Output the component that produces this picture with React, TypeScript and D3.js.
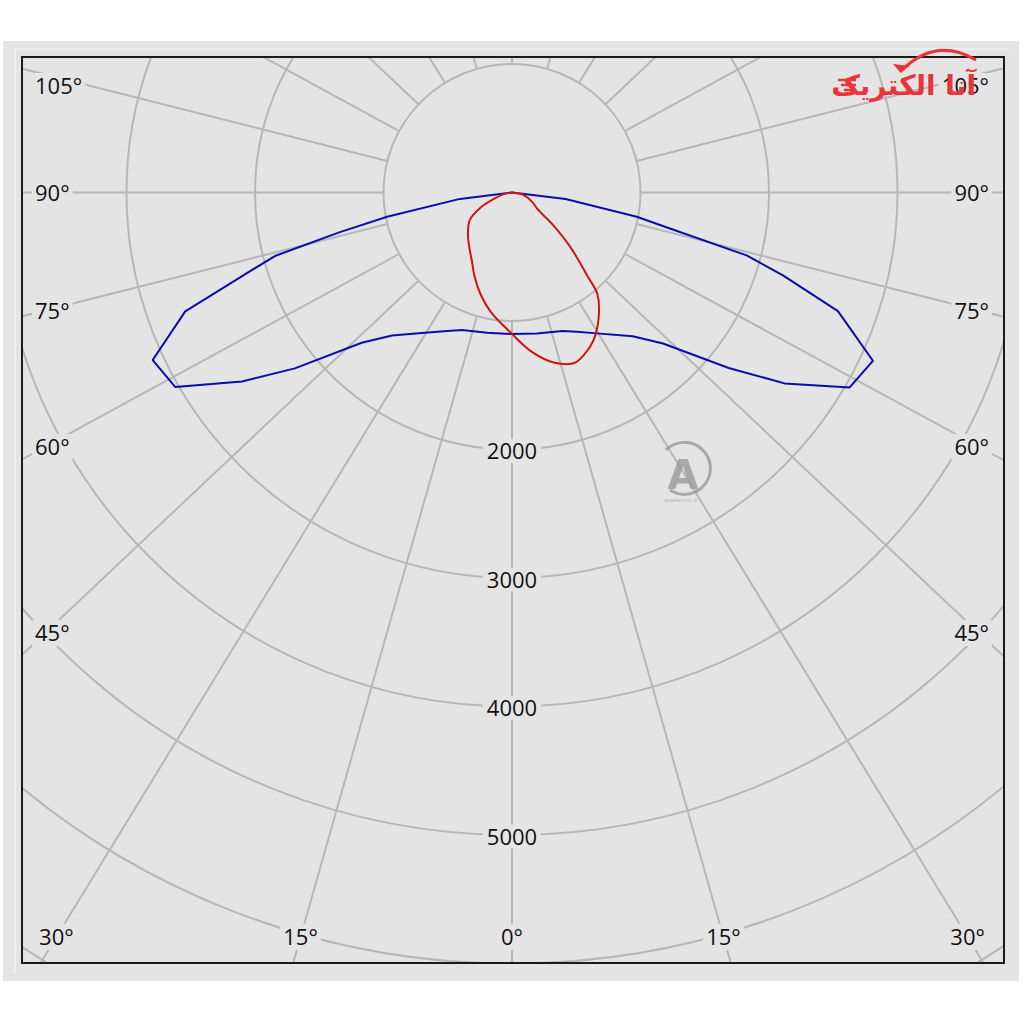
import React from "react";
import * as d3 from "d3";

// ---------- data ----------
// Polar ring values (cd) and labelled rings
const ringValues = [1000, 2000, 3000, 4000, 5000, 6000, 7000, 8000];
const ringLabelValues = [2000, 3000, 4000, 5000];
// Radial grid angles (degrees from nadir), both sides
const rayAngles = [0, 15, 30, 45, 60, 75, 90, 105, 120, 135, 150, 165, 180];
const sideLabelAngles = [45, 60, 75, 90, 105];
const bottomLabelAngles = [0, 15, 30];

// Blue curve: C90 (right) / C270 (left)
const blueAngles = [0, 10, 20, 25, 31, 40, 45, 51, 55, 60, 65, 70, 73, 75, 77, 79, 83, 90];
const blueLeft = [1101, 1109, 1139, 1190, 1270, 1453, 1654, 2175, 2565, 3027, 3085, 2706, 2170, 1910, 1380, 990, 408, 0];
const blueRight = [1101, 1115, 1147, 1195, 1279, 1461, 1662, 2170, 2590, 3034, 3099, 2699, 2205, 1890, 1290, 989, 420, 0];

// Red curve: C180 (left) / C0 (right)
const redLeftAngles = [0, 10, 17, 24, 30, 38, 47, 57, 64, 71, 80, 90];
const redLeft = [1100, 945, 832, 716, 622, 540, 469, 391, 278, 140, 60, 0];
const redRightAngles = [0, 7, 14, 20, 24, 29, 35, 40, 42, 47, 52, 57, 64, 78, 90];
const redRight = [1100, 1248, 1366, 1412, 1381, 1311, 1177, 1035, 884, 618, 391, 235, 180, 90, 0];

// ---------- layout ----------
const CX = 512;
const CY = 192.5;
const PLOT = { left: 22, top: 57, right: 1004, bottom: 963 };
const RAY_STRETCH = 1.06;
const BG = "#e4e4e4";
const GRID = "#b7b7b7";
const FONT = "'Open Sans', 'Noto Sans', sans-serif";
const FS = 22;

const rScale = d3.scaleLinear().domain([0, 1000]).range([0, 128.5]);

function rayDir(theta: number, side: number): [number, number] {
  const t = (theta * Math.PI) / 180;
  const dx = side * RAY_STRETCH * Math.sin(t);
  const dy = Math.cos(t);
  const n = Math.hypot(dx, dy);
  return [dx / n, dy / n];
}

function buildPath(la: number[], lv: number[], ra: number[], rv: number[], curve: any) {
  const pts: [number, number][] = [];
  for (let i = la.length - 1; i >= 0; i--) pts.push([Math.PI + (la[i] * Math.PI) / 180, rScale(lv[i])]);
  for (let i = 1; i < ra.length; i++) pts.push([Math.PI - (ra[i] * Math.PI) / 180, rScale(rv[i])]);
  return d3
    .lineRadial<[number, number]>()
    .angle((d) => d[0])
    .radius((d) => d[1])
    .curve(curve)(pts) as string;
}

function textW(s: string) {
  let w = 0;
  for (const c of s) w += c === "°" ? 0.43 * FS : 0.572 * FS;
  return w;
}

export default function App() {
  const innerR = rScale(1000);
  const rays: { x1: number; y1: number; x2: number; y2: number; key: string }[] = [];
  rayAngles.forEach((a) => {
    const sides = a === 0 || a === 180 ? [1] : [-1, 1];
    sides.forEach((s) => {
      const [ux, uy] = rayDir(a, s);
      rays.push({ x1: CX + ux * innerR, y1: CY + uy * innerR, x2: CX + ux * 1600, y2: CY + uy * 1600, key: `${a}_${s}` });
    });
  });

  // side labels
  const sideLabels: { x: number; y: number; anchor: string; text: string; key: string }[] = [];
  sideLabelAngles.forEach((a) => {
    [-1, 1].forEach((s) => {
      const [ux, uy] = rayDir(a, s);
      const dxT = 467;
      let y = CY + (uy / Math.abs(ux)) * dxT;
      y = Math.max(y, PLOT.top + 29);
      sideLabels.push({ x: s < 0 ? 35 : 989, y, anchor: s < 0 ? "start" : "end", text: `${a}°`, key: `s${a}_${s}` });
    });
  });
  const bottomY = 937;
  bottomLabelAngles.forEach((a) => {
    const sides = a === 0 ? [1] : [-1, 1];
    sides.forEach((s) => {
      const [ux, uy] = rayDir(a, s);
      const x = CX + (ux / uy) * (bottomY - CY);
      sideLabels.push({ x, y: bottomY, anchor: "middle", text: `${a}°`, key: `b${a}_${s}` });
    });
  });

  const bluePath = buildPath(blueAngles, blueLeft, blueAngles, blueRight, d3.curveLinear);
  const redPath = buildPath(redLeftAngles, redLeft, redRightAngles, redRight, d3.curveCatmullRom.alpha(0.5));

  return (
    <svg width={1024} height={1024} style={{ position: "absolute", left: 0, top: 0, background: "#fff" }}>
      <defs>
        <clipPath id="plotClip">
          <rect x={PLOT.left} y={PLOT.top} width={PLOT.right - PLOT.left} height={PLOT.bottom - PLOT.top} />
        </clipPath>
      </defs>
      <rect x={3} y={41} width={1016} height={940} fill={BG} />
      <polyline points="15,973 15,49 1009,49" fill="none" stroke="#f6f6f6" strokeWidth={1.2} />
      <g clipPath="url(#plotClip)">
        {ringValues.map((v) => (
          <circle key={v} cx={CX} cy={CY} r={rScale(v)} fill="none" stroke={GRID} strokeWidth={2} />
        ))}
        {rays.map((r) => (
          <line key={r.key} x1={r.x1} y1={r.y1} x2={r.x2} y2={r.y2} stroke={GRID} strokeWidth={2} />
        ))}
      </g>
      {/* angle labels */}
      {sideLabels.map((l) => {
        const w = textW(l.text);
        const x0 = l.anchor === "start" ? l.x : l.anchor === "end" ? l.x - w : l.x - w / 2;
        return (
          <g key={l.key}>
            <rect x={x0 - 3} y={l.y - 13} width={w + 6} height={26} fill={BG} />
            <text x={l.x} y={l.y + 8} textAnchor={l.anchor as any} fontFamily={FONT} fontSize={FS} fill="#111">
              {l.text}
            </text>
          </g>
        );
      })}
      {/* ring labels */}
      {ringLabelValues.map((v) => {
        const y = CY + rScale(v) + 1.5;
        const t = String(v);
        const w = textW(t);
        return (
          <g key={`rl${v}`}>
            <rect x={CX - w / 2 - 4} y={y - 12} width={w + 8} height={24} fill={BG} />
            <text x={CX} y={y + 8} textAnchor="middle" fontFamily={FONT} fontSize={FS} fill="#111">
              {t}
            </text>
          </g>
        );
      })}
      {/* curves */}
      <path d={bluePath} transform={`translate(${CX},${CY})`} fill="none" stroke="#0c0caa" strokeWidth={2} strokeLinejoin="round" />
      <path d={redPath} transform={`translate(${CX},${CY})`} fill="none" stroke="#cc1616" strokeWidth={2} strokeLinejoin="round" />
      {/* frame */}
      <rect x={PLOT.left} y={PLOT.top} width={PLOT.right - PLOT.left} height={PLOT.bottom - PLOT.top} fill="none" stroke="#1a1a1a" strokeWidth={2} />
      {/* watermark logo top-right */}
      <g>
        <path d="M 900 72 Q 935 36 976 60" fill="none" stroke="#e8343a" strokeWidth={3} />
        <path d="M 900 72 L 893 64 L 910 66 Z" fill="#e8343a" />
        {[0, 1, 2].map((i) => (
          <line key={i} x1={838 + i * 3} y1={80 + i * 5} x2={856} y2={80 + i * 5} stroke="#e8343a" strokeWidth={2.5} />
        ))}
        <text x={976} y={95} textAnchor="end" fontFamily="'DejaVu Sans', sans-serif" fontWeight="bold" fontSize={28} fill="#e8343a">
          آنا الکتریک
        </text>
      </g>
      {/* center watermark */}
      <g opacity={0.8}>
        <path d="M 666 450 A 26 26 0 1 1 670 490" fill="none" stroke="#9a9a9a" strokeWidth={3} />
        <text x={683} y={489} textAnchor="middle" fontFamily="'DejaVu Sans', sans-serif" fontWeight="bold" fontSize={40} fill="#9a9a9a">
          A
        </text>
        <text x={681} y={502} textAnchor="middle" fontFamily="'DejaVu Sans', sans-serif" fontSize={5} fill="#9a9a9a">
          anaelectric.ir
        </text>
      </g>
    </svg>
  );
}
